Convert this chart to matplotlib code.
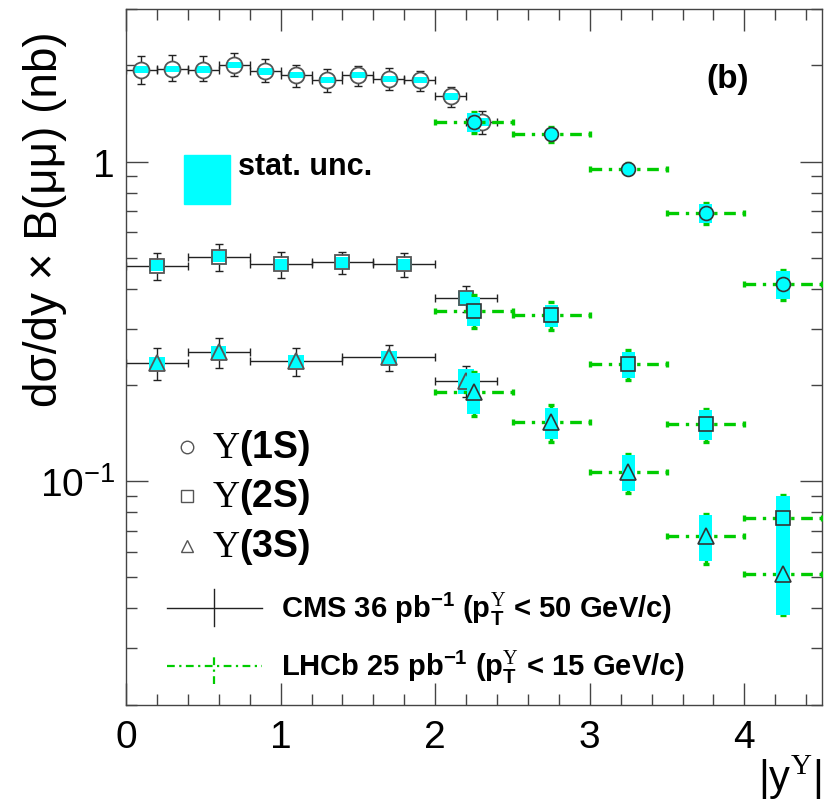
import numpy as np
import matplotlib.pyplot as plt
from matplotlib.patches import Rectangle
from matplotlib.ticker import FixedLocator, FixedFormatter, MultipleLocator, LogLocator, NullFormatter

plt.rcParams['font.family'] = ['Liberation Sans', 'DejaVu Sans']
plt.rcParams['mathtext.fontset'] = 'custom'
plt.rcParams['mathtext.rm'] = 'Liberation Sans'
plt.rcParams['mathtext.bf'] = 'Liberation Sans:bold'
plt.rcParams['mathtext.sf'] = 'Liberation Serif'
plt.rcParams['mathtext.it'] = 'Liberation Sans:italic'

CYAN = '#00ffff'
GREEN = '#00cc00'

# ---- CMS, 36 pb-1 ----
cms1_x = [0.1, 0.3, 0.5, 0.7, 0.9, 1.1, 1.3, 1.5, 1.7, 1.9, 2.1, 2.3]
cms1_xerr = [0.1] * 12
cms1_val = [1.94, 1.95, 1.94, 2.00, 1.915, 1.86, 1.795, 1.86, 1.816, 1.795, 1.60, 1.33]
cms1_lo = [0.19, 0.16, 0.16, 0.15, 0.14, 0.15, 0.14, 0.14, 0.14, 0.13, 0.12, 0.11]
cms1_hi = [0.20, 0.21, 0.20, 0.18, 0.18, 0.15, 0.15, 0.13, 0.14, 0.13, 0.11, 0.11]
cms1_stat = [0.045, 0.045, 0.045, 0.045, 0.045, 0.04, 0.04, 0.04, 0.04, 0.04, 0.04, 0.04]

cms2_x = [0.2, 0.6, 1.0, 1.4, 1.8, 2.2]
cms2_xerr = [0.2] * 6
cms2_val = [0.472, 0.504, 0.477, 0.484, 0.477, 0.373]
cms2_err = [0.047, 0.048, 0.045, 0.039, 0.041, 0.034]
cms2_stat = [0.019, 0.02, 0.019, 0.019, 0.019, 0.02]

cms3_x = [0.2, 0.6, 1.1, 1.7, 2.2]
cms3_xerr = [0.2, 0.2, 0.3, 0.3, 0.2]
cms3_val = [0.234, 0.253, 0.237, 0.244, 0.206]
cms3_err = [0.027, 0.027, 0.024, 0.023, 0.023]
cms3_stat = [0.011, 0.012, 0.011, 0.011, 0.019]

# ---- LHCb, 25 pb-1 ----
lhcb_x = [2.25, 2.75, 3.25, 3.75, 4.25]
lhcb_xerr = [0.25] * 5
lhcb1_val = [1.33, 1.217, 0.951, 0.690, 0.413]
lhcb1_err = [0.10, 0.066, 0.04, 0.052, 0.044]
lhcb1_stat = [0.09, 0.03, 0.02, 0.046, 0.042]
lhcb2_val = [0.3415, 0.330, 0.232, 0.1507, 0.0766]
lhcb2_err = [0.041, 0.033, 0.025, 0.018, 0.014]
lhcb2_stat = [0.036, 0.026, 0.021, 0.016, 0.013]
lhcb3_val = [0.190, 0.153, 0.107, 0.0672, 0.0512]
lhcb3_err = [0.030, 0.020, 0.015, 0.012, 0.013]
lhcb3_stat = [0.028, 0.017, 0.014, 0.011, 0.013]

fig = plt.figure(figsize=(8.25, 8.04), dpi=100)
ax = fig.add_axes([126 / 825, 1 - 705.7 / 804, 695.7 / 825, 695.7 / 804])

def stat_boxes(x, val, stat, width, z):
    val = np.array(val)
    stat = np.array(stat)
    ax.bar(x, 2 * stat, bottom=val - stat, width=width, color=CYAN, linewidth=0, zorder=z)

def draw_cms(x, xerr, val, lo, hi, stat, marker, ms):
    ax.errorbar(x, val, xerr=xerr, yerr=[lo, hi], fmt='none', ecolor='#222222',
                elinewidth=1.0, capsize=3, capthick=1.0, zorder=2)
    ax.plot(x, val, ls='none', marker=marker, ms=ms, mfc='white', mec='none', zorder=3)
    stat_boxes(x, val, stat, 0.1, 4)
    ax.plot(x, val, ls='none', marker=marker, ms=ms, mfc='none', mec='#555555', mew=1.3, zorder=5)

def draw_lhcb(val, err, stat, marker, ms):
    eb = ax.errorbar(lhcb_x, val, xerr=lhcb_xerr, yerr=err, fmt='none', ecolor=GREEN,
                     elinewidth=2.4, capsize=2.5, capthick=2.4, zorder=6)
    for lc in eb[2]:
        lc.set_linestyle((0, (3.5, 2, 1, 2)))
    stat_boxes(lhcb_x, val, stat, 0.085, 7)
    ax.plot(lhcb_x, val, ls='none', marker=marker, ms=ms, mfc=CYAN, mec='#333333', mew=1.2, zorder=8)

draw_cms(cms1_x, cms1_xerr, cms1_val, cms1_lo, cms1_hi, cms1_stat, 'o', 11.5)
draw_cms(cms2_x, cms2_xerr, cms2_val, cms2_err, cms2_err, cms2_stat, 's', 10)
draw_cms(cms3_x, cms3_xerr, cms3_val, cms3_err, cms3_err, cms3_stat, '^', 11)
draw_lhcb(lhcb1_val, lhcb1_err, lhcb1_stat, 'o', 10)
draw_lhcb(lhcb2_val, lhcb2_err, lhcb2_stat, 's', 10)
draw_lhcb(lhcb3_val, lhcb3_err, lhcb3_stat, '^', 11)

# axes, ROOT style
ax.set_xlim(0, 4.5)
ax.set_yscale('log')
ax.set_ylim(0.02, 3)
ax.xaxis.set_major_locator(MultipleLocator(1))
ax.xaxis.set_minor_locator(MultipleLocator(0.2))
ax.yaxis.set_major_locator(FixedLocator([0.1, 1]))
ax.yaxis.set_major_formatter(FixedFormatter(['10$^{-1}$', '1']))
ax.yaxis.set_minor_locator(LogLocator(subs=np.arange(2, 10)))
ax.yaxis.set_minor_formatter(NullFormatter())
ax.tick_params(which='both', direction='in', top=True, right=True, color='#444444', width=1.0)
ax.tick_params(which='major', length=15.5, labelsize=28)
ax.tick_params(which='minor', length=7.7)
ax.tick_params(axis='x', which='major', pad=10)
ax.tick_params(axis='y', which='major', pad=8)
for s in ax.spines.values():
    s.set_color('#444444')
    s.set_linewidth(1.0)

ax.text(-0.1164, 0.70, 'd\u03c3/dy \u00d7 B(\u03bc\u03bc) (nb)', rotation=90, fontsize=33,
        ha='center', va='center', transform=ax.transAxes)
ax.text(1.0, -0.104, '|y$^{\\mathsf{\\Upsilon}}$|', fontsize=30, ha='right', va='center',
        transform=ax.transAxes)
ax.text(0.8653, 0.8994, '(b)', fontsize=24, fontweight='bold', ha='center', va='center',
        transform=ax.transAxes)

# legend
ax.add_patch(Rectangle((0.0834, 0.7202), 0.0661, 0.0697, color=CYAN, transform=ax.transAxes,
                       clip_on=False, zorder=9))
ax.text(0.161, 0.7743, 'stat. unc.', fontsize=22, fontweight='bold', va='center',
        transform=ax.transAxes)

for yy, mk, lab in [(0.3704, 'o', '1S'), (0.2999, 's', '2S'), (0.2286, '^', '3S')]:
    ax.plot([0.0877], [yy], marker=mk, ms=9, mfc='none', mec='#555555', mew=1.0,
            transform=ax.transAxes, clip_on=False)
    ax.text(0.1236, yy, '$\\mathsf{\\Upsilon}$(%s)' % lab, fontsize=27, fontweight='bold',
            va='center', transform=ax.transAxes)

ax.plot([0.0586, 0.1949], [0.139, 0.139], color='#222222', lw=1.0, transform=ax.transAxes)
ax.plot([0.1265, 0.1265], [0.1131, 0.1657], color='#222222', lw=1.0, transform=ax.transAxes)
ax.text(0.2221, 0.139, 'CMS 36 pb$^{\\mathbf{-1}}$ (p$_{\\mathbf{T}}^{\\mathsf{\\Upsilon}}$ < 50 GeV/c)',
        fontsize=21, fontweight='bold', va='center', transform=ax.transAxes)

ax.plot([0.0586, 0.1949], [0.0557, 0.0557], color=GREEN, lw=1.6, ls=(0, (3.5, 2, 1, 2)),
        transform=ax.transAxes)
ax.plot([0.1265, 0.1265], [0.0298, 0.075], color=GREEN, lw=1.6, ls=(0, (3.5, 2, 1, 2)),
        transform=ax.transAxes)
ax.text(0.2221, 0.0557, 'LHCb 25 pb$^{\\mathbf{-1}}$ (p$_{\\mathbf{T}}^{\\mathsf{\\Upsilon}}$ < 15 GeV/c)',
        fontsize=21, fontweight='bold', va='center', transform=ax.transAxes)

fig.savefig('out.png', dpi=100)
